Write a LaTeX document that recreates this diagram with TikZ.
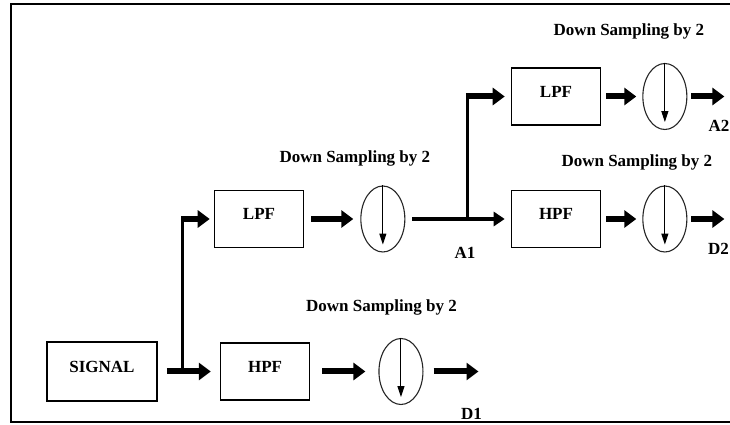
\documentclass[tikz,border=0pt]{standalone}
\usepackage{fontspec}
\setmainfont{Liberation Serif}
\usetikzlibrary{arrows.meta,positioning,shapes.geometric}

\begin{document}
\begin{tikzpicture}[x=1pt, y=1pt,
  font=\fontsize{17}{20}\selectfont\bfseries,
  block/.style={rectangle, draw, line width=1.6pt, minimum width=89pt, minimum height=57pt, text height=12pt, text depth=10pt, inner sep=0pt},
  sampler/.style={ellipse, draw, black!85, line width=1.1pt, minimum width=44pt, minimum height=66pt, inner sep=0pt},
  tag/.style={inner sep=0pt},
  line/.style={draw, line width=6pt, -{Triangle[length=12pt, width=17pt]}},
  feed/.style={draw, line width=3pt},
  feedline/.style={draw, line width=3.5pt, -{Triangle[length=11pt, width=14pt]}},
  down/.style={draw, line width=1pt, -{Triangle[length=11pt, width=7pt]}}]

  \useasboundingbox (0,0) rectangle (730,425);
  \draw[line width=2.5pt] (731,421) -- (11,421) -- (11,3) -- (731,3);

  \node [block, minimum width=110pt, minimum height=59pt] (sig) at (102,53.5) {SIGNAL};
  \node [block, right=62pt of sig] (hpf1) {HPF};
  \node [sampler, right=68pt of hpf1] (ds4) {};
  \node [block] (lpf1) at (259,206) {LPF};
  \node [sampler, right=56pt of lpf1] (ds1) {};
  \node [block] (lpf2) at (556,328.5) {LPF};
  \node [sampler, right=41pt of lpf2] (ds2) {};
  \node [block] (hpf2) at (556,206) {HPF};
  \node [sampler, right=41pt of hpf2] (ds3) {};

  \coordinate [right=25pt of sig] (j1);
  \coordinate (k1) at (j1 |- lpf1);
  \coordinate [right=62pt of ds1] (j2);
  \coordinate (k2) at (j2 |- lpf2);
  \coordinate [right=37pt of ds2] (a2);
  \coordinate [right=37pt of ds3] (d2);
  \coordinate [right=55pt of ds4] (d1);

  % labels
  \node [tag, above=18.5pt of ds1, xshift=-28pt] (lab1) {Down Sampling by 2};
  \node [tag, above=23.5pt of ds2, xshift=-36pt] (lab2) {Down Sampling by 2};
  \node [tag, above=14.5pt of ds3, xshift=-28pt] (lab3) {Down Sampling by 2};
  \node [tag, above=22.5pt of ds4, xshift=-19.5pt] (lab4) {Down Sampling by 2};
  \node [tag, below=28pt of j2, xshift=-2.5pt] (out1) {A1};
  \node [tag, below=23.5pt of a2, xshift=-5.5pt] (out2) {A2};
  \node [tag, below=24pt of d2, xshift=-6pt] (out3) {D2};
  \node [tag, below=36.5pt of d1, xshift=-7pt] (out4) {D1};

  \path [line, shorten <=9pt, shorten >=9pt] (sig) -- (hpf1);
  \path [feed] (j1) -- (k1);
  \path [line, shorten <=-1.5pt, shorten >=4pt] (k1) -- (lpf1);
  \path [line, shorten <=7pt, shorten >=7pt] (lpf1) -- (ds1);
  \path [feedline, shorten <=7pt, shorten >=6pt] (ds1) -- (hpf2);
  \path [feed] (j2) -- (k2);
  \path [line, shorten <=-1.5pt, shorten >=6pt] (k2) -- (lpf2);
  \path [line, shorten <=5pt, shorten >=6pt] (lpf2) -- (ds2);
  \path [line, shorten <=5pt, shorten >=6pt] (hpf2) -- (ds3);
  \path [line, shorten <=4pt] (ds2) -- (a2);
  \path [line, shorten <=4pt] (ds3) -- (d2);
  \path [line, shorten <=12pt, shorten >=13pt] (hpf1) -- (ds4);
  \path [line, shorten <=10pt] (ds4) -- (d1);

  \foreach \d in {ds1,ds2,ds3,ds4}
    \path [down, shorten >=8pt] (\d.north) -- (\d.south);
\end{tikzpicture}
\end{document}
